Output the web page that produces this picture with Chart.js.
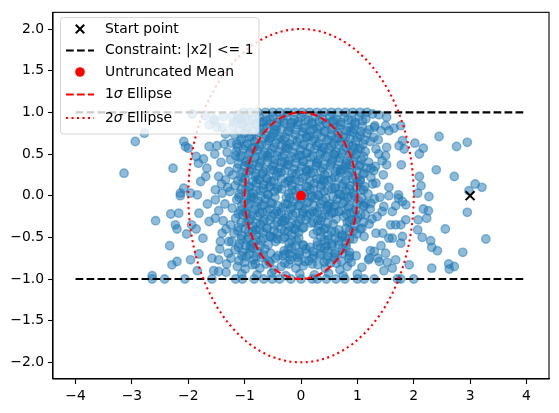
<!DOCTYPE html>
<html>
<head>
<meta charset="utf-8">
<script src="https://cdn.jsdelivr.net/npm/chart.js@4.4.1/dist/chart.umd.min.js"></script>
<style>
  html, body { margin: 0; padding: 0; background: #fff; }
  #wrap { width: 559px; height: 413px; }
</style>
</head>
<body>
<div id="wrap"><canvas id="chart" width="559" height="413"></canvas></div>
<script>
const xTicks = [-4, -3, -2, -1, 0, 1, 2, 3, 4];
const yTicks = [-2, -1.5, -1, -0.5, 0, 0.5, 1, 1.5, 2];
const startPoint = [3, 0];
const untruncatedMean = [0, 0];
const constraintBounds = [1, -1];
const constraintSpan = [-4, 4];
const sigmaRadii = [1, 2];

// samples, split by region
const samplesLeft = [
  [-3.14,0.27],[-2.94,0.65],[-2.78,0.75],[-2.08,0.65],[-2.05,0.59],[-2.0,0.57],[-1.86,0.47],[-1.73,0.44],
  [-1.82,0.39],[-2.27,0.33],[-1.63,0.59],[-1.49,0.6],[-1.53,0.5],[-1.67,0.33],[-1.69,0.23],[-1.78,0.17],
  [-2.08,0.09],[-2.14,0.03],[-1.96,0.03],[-1.46,0.23],[-1.34,0.19],[-1.28,0.29],[-1.31,0.52],[-1.16,0.48],
  [-1.14,0.62],[-1.52,0.07],[-1.4,0.03],[-1.93,0.98],[-1.53,0.9],[-1.63,0.85],[-1.4,0.82],[-1.23,0.94],
  [-1.34,0.74],[-1.55,0.92],[-1.49,0.82],[-1.19,0.88],[-1.07,0.92],[-1.7,0.96],[-1.38,0.95],[-1.12,0.97],
  [-2.58,-0.3],[-2.31,-0.22],[-2.17,-0.21],[-2.14,0.0],[-1.84,0.01],[-2.23,-0.35],[-2.2,-0.4],[-2.33,-0.6],
  [-2.03,-0.46],[-1.94,-0.35],[-1.86,-0.4],[-1.81,-0.21],[-1.74,-0.51],[-1.63,-0.31],[-1.66,-0.1],[-1.81,-0.7],
  [-1.96,-0.77],[-2.2,-0.79],[-2.29,-0.83],[-1.84,-0.9],[-2.64,-0.96],[-1.58,-0.75],[-1.46,-0.77],[-1.55,-0.9],
  [-1.46,-0.91],[-1.33,-0.92],[-1.43,-0.55],[-1.28,-0.55],[-1.4,-0.45],[-1.52,-0.27],[-1.46,-0.18],[-1.52,-0.05],
  [-1.29,-0.69],[-1.35,-0.1],[-1.38,-0.3],[-1.3,0.1],[-1.42,0.4],[-1.33,-0.4],
  [-1.36,0.62],[-1.44,-0.64],[-1.32,-0.82],[-1.41,0.14]
];
const samplesRight = [
  [2.95,-0.2],[2.56,-0.4],[3.28,-0.52],[2.87,-0.68],[2.62,-0.82],[2.63,-0.88],[2.72,-0.85],[2.32,-0.87],
  [2.42,-0.66],[2.32,-0.62],[2.3,-0.54],[2.15,-0.5],[2.07,-0.41],[2.27,-0.01],[2.17,-0.16],[2.26,-0.18],
  [2.23,-0.27],[2.08,-0.29],[2.07,0.03],[1.92,-0.83],[1.47,-0.9],[1.68,-0.77],[1.53,-0.8],[1.5,-0.69],
  [1.36,-0.75],[1.3,-0.67],[1.8,-0.49],[1.77,-0.57],[1.62,-0.51],[1.59,-0.35],[1.68,-0.35],[1.77,-0.35],
  [1.86,-0.29],[1.86,-0.11],[1.8,-0.07],[1.73,-0.03],[1.68,-0.12],[1.47,-0.13],
  [1.31,0.84],[1.42,0.78],[1.5,0.84],[1.65,0.81],[1.77,0.84],[1.56,0.78],[1.37,0.67],[1.29,0.7],
  [2.45,0.71],[2.95,0.64],[2.76,0.59],[2.02,0.63],[2.17,0.57],[2.1,0.5],[1.8,0.66],[1.83,0.56],
  [1.74,0.6],[1.52,0.58],[1.44,0.42],[1.52,0.37],[1.78,0.37],[2.4,0.31],[2.72,0.23],[2.1,0.23],
  [2.13,0.12],[3.09,0.14],[3.21,0.1],[2.98,0.06],[1.56,0.1],[1.33,0.15],[1.73,0.01],[1.27,0.98],
  [1.38,0.5],[1.46,0.25],[1.4,-0.02],[1.35,-0.25],[1.45,-0.45],[1.32,0.35],[1.42,-0.6],
  [1.3,0.82],[1.24,0.33],[1.56,-0.0],[1.24,-0.09],[1.44,-0.19],[1.62,-0.19],[1.33,-0.45],[1.56,-0.51],
  [1.21,-0.75],[1.39,-0.79],[1.62,-0.87],[1.33,0.56],[1.5,0.48],[1.38,0.97],[1.52,0.94]
];
const samplesCore = [
  [-1.12,0.92],[-0.98,0.95],[-0.86,0.91],[-0.74,0.94],[-0.61,0.9],[-0.5,0.95],[-0.37,0.92],[-0.25,0.96],[-0.12,0.91],[0.0,0.94],
  [0.13,0.9],[0.26,0.95],[0.38,0.92],[0.51,0.96],[0.63,0.91],[0.77,0.94],[0.9,0.9],[1.03,0.95],[1.15,0.92],
  [-1.22,0.83],[-1.05,0.86],[-0.93,0.82],[-0.8,0.85],[-0.68,0.81],[-0.56,0.86],[-0.44,0.83],[-0.3,0.87],[-0.19,0.82],[-0.06,0.85],
  [0.07,0.81],[0.19,0.86],[0.33,0.83],[0.45,0.87],[0.57,0.82],[0.7,0.85],[0.84,0.81],[0.96,0.86],[1.09,0.83],[1.21,0.79],
  [-1.18,0.73],[-1.0,0.75],[-0.88,0.71],[-0.75,0.76],[-0.62,0.72],[-0.49,0.75],[-0.36,0.7],[-0.24,0.77],[-0.1,0.73],[0.03,0.76],
  [0.15,0.71],[0.29,0.74],[0.41,0.77],[0.54,0.72],[0.66,0.75],[0.79,0.7],[0.92,0.76],[1.05,0.72],[1.17,0.75],
  [-1.24,0.63],[-1.08,0.66],[-0.95,0.62],[-0.83,0.65],[-0.7,0.61],[-0.57,0.66],[-0.45,0.63],[-0.31,0.67],[-0.2,0.62],[-0.07,0.65],
  [0.06,0.61],[0.2,0.66],[0.32,0.63],[0.46,0.67],[0.58,0.62],[0.71,0.65],[0.85,0.61],[0.97,0.66],[1.1,0.62],[1.23,0.65],
  [-1.15,0.53],[-1.02,0.56],[-0.9,0.52],[-0.77,0.55],[-0.64,0.51],[-0.52,0.56],[-0.39,0.53],[-0.27,0.57],[-0.14,0.52],[-0.01,0.55],
  [0.11,0.51],[0.24,0.56],[0.37,0.53],[0.5,0.57],[0.62,0.52],[0.75,0.55],[0.88,0.51],[1.01,0.56],[1.14,0.53],
  [-1.25,0.43],[-1.09,0.46],[-0.96,0.42],[-0.82,0.45],[-0.71,0.41],[-0.58,0.46],[-0.46,0.43],[-0.33,0.47],[-0.21,0.42],[-0.08,0.45],
  [0.05,0.41],[0.17,0.46],[0.31,0.43],[0.43,0.47],[0.56,0.42],[0.69,0.45],[0.81,0.41],[0.95,0.46],[1.07,0.43],[1.2,0.4],
  [-1.13,0.33],[-1.0,0.36],[-0.87,0.32],[-0.75,0.35],[-0.63,0.31],[-0.5,0.36],[-0.38,0.33],[-0.25,0.37],[-0.12,0.32],[0.01,0.35],
  [0.14,0.31],[0.27,0.36],[0.39,0.33],[0.52,0.37],[0.64,0.32],[0.78,0.35],[0.9,0.31],[1.03,0.36],[1.16,0.33],[1.29,0.3],
  [-1.21,0.25],[-1.06,0.22],[-0.97,0.27],[-0.81,0.23],[-0.69,0.26],[-0.6,0.2],[-0.44,0.24],[-0.35,0.28],[-0.19,0.21],[-0.09,0.26],
  [0.08,0.23],[0.18,0.27],[0.34,0.2],[0.42,0.25],[0.6,0.22],[0.7,0.28],[0.83,0.24],[0.98,0.21],[1.1,0.26],[1.24,0.22],
  [-1.17,0.12],[-1.03,0.16],[-0.91,0.11],[-0.79,0.15],[-0.66,0.13],[-0.53,0.17],[-0.41,0.1],[-0.28,0.15],[-0.16,0.12],[-0.03,0.17],
  [0.12,0.11],[0.23,0.15],[0.36,0.13],[0.49,0.18],[0.61,0.1],[0.74,0.14],[0.87,0.12],[1.0,0.16],[1.13,0.11],[1.27,0.14],
  [-1.26,0.05],[-1.1,0.02],[-0.98,0.07],[-0.85,0.03],[-0.72,0.06],[-0.59,0.01],[-0.47,0.05],[-0.34,0.08],[-0.22,0.02],[-0.1,0.06],
  [0.04,0.03],[0.16,0.07],[0.3,0.01],[0.41,0.05],[0.55,0.08],[0.67,0.02],[0.8,0.06],[0.93,0.03],[1.06,0.07],[1.19,0.02],
  [-1.14,-0.05],[-1.01,-0.08],[-0.89,-0.03],[-0.76,-0.07],[-0.63,-0.04],[-0.51,-0.09],[-0.26,-0.02],[-0.13,-0.07],[0.0,-0.04],
  [0.13,-0.08],[0.25,-0.03],[0.39,-0.06],[0.51,-0.1],[0.64,-0.04],[0.77,-0.07],[0.9,-0.02],[1.02,-0.06],[1.15,-0.09],[1.3,-0.04],
  [-1.22,-0.15],[-1.07,-0.18],[-0.94,-0.13],[-0.82,-0.17],[-0.7,-0.12],[-0.56,-0.16],[-0.43,-0.19],[-0.32,-0.14],[-0.18,-0.17],[-0.05,-0.12],
  [0.07,-0.16],[0.21,-0.19],[0.33,-0.14],[0.46,-0.17],[0.59,-0.13],[0.72,-0.18],[0.84,-0.14],[0.97,-0.17],[1.11,-0.12],[1.23,-0.16],
  [-1.16,-0.27],[-1.03,-0.23],[-0.9,-0.28],[-0.77,-0.24],[-0.65,-0.29],[-0.52,-0.25],[-0.4,-0.22],[-0.27,-0.27],[-0.15,-0.23],[-0.01,-0.28],
  [0.11,-0.24],[0.24,-0.21],[0.37,-0.26],[0.5,-0.23],[0.62,-0.28],[0.76,-0.25],[0.88,-0.21],[1.01,-0.26],[1.14,-0.23],[1.26,-0.28],
  [-1.25,-0.35],[-1.11,-0.38],[-0.97,-0.33],[-0.85,-0.37],[-0.72,-0.34],[-0.6,-0.39],[-0.47,-0.35],[-0.34,-0.32],[-0.2,-0.37],[-0.08,-0.34],
  [0.05,-0.38],[0.18,-0.33],[0.31,-0.36],[0.44,-0.39],[0.57,-0.34],[0.82,-0.32],[0.95,-0.36],[1.08,-0.39],[1.21,-0.34],
  [-1.19,-0.45],[-1.05,-0.48],[-0.93,-0.43],[-0.8,-0.47],[-0.67,-0.44],[-0.55,-0.49],[-0.42,-0.45],[-0.29,-0.42],[-0.17,-0.47],[-0.04,-0.44],
  [0.22,-0.46],[0.35,-0.43],[0.48,-0.48],[0.6,-0.44],[0.73,-0.47],[0.86,-0.42],[0.99,-0.46],[1.12,-0.49],
  [-1.23,-0.55],[-1.09,-0.58],[-0.96,-0.53],[-0.84,-0.57],[-0.71,-0.54],[-0.58,-0.59],[-0.45,-0.55],[-0.33,-0.52],[-0.21,-0.57],[-0.08,-0.54],
  [0.04,-0.6],[0.29,-0.56],[0.42,-0.53],[0.55,-0.58],[0.67,-0.54],[0.8,-0.57],[0.93,-0.52],
  [-1.17,-0.65],[-1.03,-0.68],[-0.9,-0.63],[-0.77,-0.67],[-0.64,-0.64],[-0.3,-0.66],[-0.17,-0.63],[-0.04,-0.68],[0.09,-0.64],
  [0.21,-0.67],[0.35,-0.62],[0.47,-0.66],[0.6,-0.69],[0.73,-0.64],[0.86,-0.68],[1.23,-0.66],
  [-1.24,-0.75],[-1.1,-0.78],[-0.97,-0.73],[-0.84,-0.77],[-0.7,-0.74],[-0.57,-0.79],[-0.45,-0.75],[-0.32,-0.72],[-0.19,-0.77],[-0.06,-0.74],
  [0.07,-0.79],[0.2,-0.75],[0.33,-0.72],[0.46,-0.77],[0.59,-0.74],[0.72,-0.79],[0.85,-0.75],[0.98,-0.72],[1.2,-0.77],
  [-1.13,-0.85],[-0.99,-0.88],[-0.86,-0.83],[-0.73,-0.87],[-0.48,-0.89],[-0.35,-0.85],[-0.22,-0.82],[-0.09,-0.87],[0.04,-0.84],
  [0.3,-0.83],[0.43,-0.87],[0.69,-0.89],[0.82,-0.85],[1.08,-0.86],
  [-1.05,-0.94],[-0.78,-0.95],[-0.52,-0.93],[-0.27,-0.96],[-0.02,-0.94],[0.24,-0.95],[0.49,-0.93],[0.75,-0.96],[1.0,-0.94]
];
const samplesCoreExtra = [
  [-0.71,0.88],[-0.44,0.79],[-0.15,0.88],[0.22,0.8],[0.55,0.89],[0.88,0.78],[-0.83,0.58],[-0.55,0.69],[-0.26,0.6],[0.09,0.7],
  [0.38,0.58],[0.66,0.69],[0.95,0.57],[-0.92,0.38],[-0.6,0.48],[-0.3,0.4],[0.0,0.48],[0.28,0.39],[0.58,0.5],[0.86,0.37],
  [-0.77,0.19],[-0.48,0.3],[-0.2,0.18],[0.1,0.29],[0.4,0.19],[0.7,0.31],[1.05,0.19],[-0.88,-0.01],[-0.57,0.1],[-0.24,-0.1],
  [0.18,0.0],[0.47,-0.12],[0.75,0.0],[-0.96,-0.22],[-0.68,-0.2],[-0.33,-0.3],[0.03,-0.21],[0.3,-0.3],[0.58,-0.2],[0.9,-0.29],
  [-0.8,-0.41],[-0.5,-0.5],[-0.12,-0.4],[0.45,-0.6],[0.78,-0.5],[-0.9,-0.6],[-0.2,-0.7],[0.14,-0.78],[0.52,-0.81],[-0.62,-0.82]
];
// the saturated middle of the cloud, where single marks cannot be told apart
const samplesCoreDense = [
  [-1.04,0.88],[-0.93,0.9],[-0.8,0.87],[-0.67,0.89],[-0.55,0.91],[-0.42,0.88],[-0.31,0.9],[-0.18,0.87],[-0.05,0.89],[0.08,0.91],
  [0.2,0.88],[0.32,0.9],[0.45,0.87],[0.58,0.9],[0.71,0.88],[0.84,0.91],[0.96,0.88],[1.09,0.9],
  [-1.1,0.78],[-0.97,0.8],[-0.85,0.77],[-0.72,0.79],[-0.6,0.81],[-0.47,0.78],[-0.35,0.8],[-0.21,0.77],[-0.09,0.79],[0.04,0.81],
  [0.17,0.78],[0.29,0.8],[0.43,0.77],[0.55,0.79],[0.68,0.81],[0.81,0.78],[0.94,0.8],[1.06,0.77],
  [-1.05,0.68],[-0.92,0.7],[-0.79,0.67],[-0.66,0.69],[-0.53,0.71],[-0.4,0.68],[-0.28,0.7],[-0.15,0.67],[-0.02,0.69],[0.11,0.71],
  [0.24,0.68],[0.36,0.7],[0.49,0.67],[0.62,0.69],[0.75,0.71],[0.87,0.68],[1.0,0.7],[1.13,0.67],
  [-1.12,0.58],[-0.99,0.6],[-0.86,0.57],[-0.74,0.59],[-0.61,0.61],[-0.48,0.58],[-0.35,0.6],[-0.23,0.57],[-0.1,0.59],[0.03,0.61],
  [0.16,0.58],[0.28,0.6],[0.41,0.57],[0.54,0.59],[0.67,0.61],[0.8,0.58],[0.92,0.6],[1.05,0.57],
  [-1.06,0.48],[-0.93,0.5],[-0.8,0.47],[-0.68,0.49],[-0.55,0.51],[-0.42,0.48],[-0.3,0.5],[-0.17,0.47],[-0.04,0.49],[0.09,0.51],
  [0.21,0.48],[0.34,0.5],[0.47,0.47],[0.6,0.49],[0.72,0.51],[0.85,0.48],[0.98,0.5],[1.11,0.47],
  [-1.11,0.38],[-0.98,0.4],[-0.86,0.37],[-0.73,0.39],[-0.6,0.41],[-0.47,0.38],[-0.35,0.4],[-0.22,0.37],[-0.09,0.39],[0.03,0.41],
  [0.16,0.38],[0.29,0.4],[0.42,0.37],[0.54,0.39],[0.67,0.41],[0.8,0.38],[0.93,0.4],[1.05,0.37],
  [-1.05,0.28],[-0.92,0.3],[-0.8,0.27],[-0.67,0.29],[-0.54,0.31],[-0.41,0.28],[-0.29,0.3],[-0.16,0.27],[-0.03,0.29],[0.1,0.31],
  [0.22,0.28],[0.35,0.3],[0.48,0.27],[0.61,0.29],[0.73,0.31],[0.86,0.28],[0.99,0.3],[1.12,0.27],
  [-1.12,0.18],[-0.99,0.2],[-0.86,0.17],[-0.73,0.19],[-0.61,0.21],[-0.48,0.18],[-0.35,0.2],[-0.23,0.17],[-0.1,0.19],[0.03,0.21],
  [0.16,0.18],[0.28,0.2],[0.41,0.17],[0.54,0.19],[0.67,0.21],[0.79,0.18],[0.92,0.2],[1.05,0.17],
  [-1.06,0.08],[-0.93,0.1],[-0.8,0.07],[-0.67,0.09],[-0.55,0.11],[-0.42,0.08],[-0.16,0.07],[-0.04,0.09],[0.09,0.11],[0.22,0.08],
  [0.35,0.1],[0.47,0.07],[0.6,0.09],[0.73,0.11],[0.86,0.08],[0.98,0.1],[1.11,0.07],
  [-1.1,-0.02],[-0.97,0.0],[-0.84,-0.03],[-0.71,-0.01],[-0.58,0.01],[-0.46,-0.02],[-0.2,-0.03],[-0.07,-0.01],[0.06,0.01],[0.19,-0.02],
  [0.32,0.0],[0.44,-0.03],[0.57,-0.01],[0.7,0.01],[0.83,-0.02],[0.95,0.0],[1.08,-0.03],
  [-1.05,-0.12],[-0.92,-0.1],[-0.79,-0.13],[-0.66,-0.11],[-0.54,-0.09],[-0.41,-0.12],[-0.28,-0.1],[-0.16,-0.13],[-0.03,-0.11],[0.1,-0.09],
  [0.23,-0.12],[0.35,-0.1],[0.48,-0.13],[0.61,-0.11],[0.74,-0.09],[0.86,-0.12],[0.99,-0.1],[1.12,-0.13],
  [-1.11,-0.22],[-0.98,-0.2],[-0.86,-0.23],[-0.73,-0.21],[-0.6,-0.19],[-0.47,-0.22],[-0.35,-0.2],[-0.22,-0.23],[-0.09,-0.21],[0.04,-0.19],
  [0.16,-0.22],[0.29,-0.2],[0.42,-0.23],[0.55,-0.21],[0.67,-0.19],[0.8,-0.22],[0.93,-0.2],[1.06,-0.23],
  [-1.06,-0.32],[-0.93,-0.3],[-0.8,-0.33],[-0.67,-0.31],[-0.55,-0.29],[-0.42,-0.32],[-0.29,-0.3],[-0.17,-0.33],[-0.04,-0.31],[0.09,-0.29],
  [0.22,-0.32],[0.35,-0.3],[0.47,-0.33],[0.86,-0.31],[0.98,-0.29],[1.11,-0.32],
  [-1.12,-0.42],[-0.99,-0.4],[-0.86,-0.43],[-0.74,-0.41],[-0.61,-0.39],[-0.48,-0.42],[-0.35,-0.4],[-0.23,-0.43],[-0.1,-0.41],[0.03,-0.39],
  [0.29,-0.42],[0.41,-0.4],[0.54,-0.43],[0.67,-0.41],[0.8,-0.39],[0.93,-0.42],[1.05,-0.4],
  [-1.06,-0.52],[-0.93,-0.5],[-0.8,-0.53],[-0.67,-0.51],[-0.55,-0.49],[-0.42,-0.52],[-0.29,-0.5],[-0.17,-0.53],[-0.04,-0.51],
  [0.35,-0.5],[0.48,-0.53],[0.61,-0.51],[0.73,-0.49],[0.86,-0.52],
  [-1.11,-0.62],[-0.98,-0.6],[-0.86,-0.63],[-0.73,-0.61],[-0.22,-0.63],[-0.09,-0.61],[0.04,-0.59],[0.16,-0.62],[0.29,-0.6],
  [0.42,-0.63],[0.55,-0.61],[0.67,-0.59],[0.8,-0.62],
  [-1.05,-0.72],[-0.92,-0.7],[-0.8,-0.73],[-0.67,-0.71],[-0.54,-0.69],[-0.41,-0.72],[-0.29,-0.7],[-0.16,-0.73],[-0.03,-0.71],[0.1,-0.69],
  [0.23,-0.72],[0.35,-0.7],[0.48,-0.73],[0.61,-0.71],[0.74,-0.69],[0.86,-0.72],
  [-1.0,-0.8],[-0.81,-0.82],[-0.55,-0.8],[-0.29,-0.81],[-0.04,-0.79],[0.2,-0.82],[0.41,-0.8],[0.63,-0.81],[0.89,-0.8]
];
const rimTopX = [-1.02,-0.9,-0.77,-0.63,-0.5,-0.38,-0.24,-0.11,0.02,0.15,0.28,0.41,0.54,0.66,0.79,0.92,1.05,1.17];
const rimBottomX = [-2.64,-2.42,-2.06,-1.58,-1.16,-1.04,-0.83,-0.66,-0.51,-0.38,-0.18,0.0,0.2,0.29,0.45,0.62,0.78,1.0,1.12,1.3,1.71,1.77,2.0];

const FONT = "'DejaVu Sans', sans-serif";
const DASH = [7.7, 3.3];
const DOT = [2.1, 3.4];
const LW = 2.08;
const BLUE_A = 'rgba(31,119,180,0.5)';

const minus = s => String(s).replace('-', '\u2212');

const scatterPts = []
  .concat(samplesLeft, samplesCore, samplesCoreExtra, samplesCoreDense, samplesRight)
  .map(p => ({ x: p[0], y: p[1] }))
  .concat(rimTopX.map(v => ({ x: v, y: constraintBounds[0] })))
  .concat(rimBottomX.map(v => ({ x: v, y: constraintBounds[1] })));

const ellipsePlugin = {
  id: 'ellipses',
  afterDatasetsDraw(chart) {
    const { ctx, chartArea, scales: { x, y } } = chart;
    const cx = x.getPixelForValue(untruncatedMean[0]);
    const cy = y.getPixelForValue(untruncatedMean[1]);
    ctx.save();
    ctx.beginPath();
    ctx.rect(chartArea.left, chartArea.top, chartArea.width, chartArea.height);
    ctx.clip();
    sigmaRadii.forEach((r, i) => {
      const rx = x.getPixelForValue(untruncatedMean[0] + r) - cx;
      const ry = cy - y.getPixelForValue(untruncatedMean[1] + r);
      ctx.beginPath();
      ctx.ellipse(cx, cy, rx, ry, 0, 0, Math.PI * 2);
      ctx.strokeStyle = 'red';
      ctx.lineWidth = LW;
      ctx.lineCap = 'butt';
      ctx.setLineDash(i === 0 ? DASH : DOT);
      ctx.stroke();
    });
    ctx.restore();
  }
};

const framePlugin = {
  id: 'frame',
  afterDraw(chart) {
    const { ctx, chartArea: a } = chart;
    ctx.save();
    ctx.strokeStyle = '#000';
    ctx.lineWidth = 1.1;
    ctx.strokeRect(a.left, a.top, a.right - a.left, a.bottom - a.top);
    ctx.restore();
  }
};

// legend drawn inside the axes, like matplotlib's "best" placement
const legendPlugin = {
  id: 'mplLegend',
  afterDraw(chart) {
    const ctx = chart.ctx;
    ctx.save();
    const bx = 60.5, by = 17.5, bw = 198.5, bh = 116.5, r = 3;
    ctx.beginPath();
    ctx.roundRect(bx, by, bw, bh, r);
    ctx.fillStyle = 'rgba(255,255,255,0.8)';
    ctx.fill();
    ctx.strokeStyle = 'rgba(204,204,204,0.8)';
    ctx.lineWidth = 1;
    ctx.stroke();

    const hx = 80, x0 = 66, x1 = 94, tx = 105;
    const rows = [29, 50.5, 72, 94.5, 118];
    ctx.font = '13.9px ' + FONT;
    ctx.fillStyle = '#000';
    ctx.textBaseline = 'middle';

    // start point
    ctx.strokeStyle = '#000';
    ctx.lineWidth = 2;
    ctx.beginPath();
    ctx.moveTo(hx - 4.2, rows[0] - 4.2); ctx.lineTo(hx + 4.2, rows[0] + 4.2);
    ctx.moveTo(hx - 4.2, rows[0] + 4.2); ctx.lineTo(hx + 4.2, rows[0] - 4.2);
    ctx.stroke();
    ctx.fillText('Start point', tx, rows[0]);

    // constraint
    ctx.lineWidth = LW;
    ctx.setLineDash(DASH);
    ctx.beginPath(); ctx.moveTo(x0, rows[1]); ctx.lineTo(x1, rows[1]); ctx.stroke();
    ctx.setLineDash([]);
    ctx.fillText('Constraint: |x2| <= 1', tx, rows[1]);

    // mean
    ctx.fillStyle = 'red';
    ctx.beginPath(); ctx.arc(hx, rows[2], 4.8, 0, Math.PI * 2); ctx.fill();
    ctx.fillStyle = '#000';
    ctx.fillText('Untruncated Mean', tx, rows[2]);

    // ellipses
    [[DASH, '1', rows[3]], [DOT, '2', rows[4]]].forEach(([dash, n, yy]) => {
      ctx.strokeStyle = 'red';
      ctx.setLineDash(dash);
      ctx.beginPath(); ctx.moveTo(x0, yy); ctx.lineTo(x1, yy); ctx.stroke();
      ctx.setLineDash([]);
      let cx = tx;
      ctx.font = '13.9px ' + FONT;
      ctx.fillText(n, cx, yy);
      cx += ctx.measureText(n).width;
      ctx.font = 'italic 13.9px ' + FONT;
      ctx.fillText('\u03c3', cx, yy);
      cx += ctx.measureText('\u03c3').width;
      ctx.font = '13.9px ' + FONT;
      ctx.fillText(' Ellipse', cx, yy);
    });
    ctx.restore();
  }
};

const axisCommon = {
  type: 'linear',
  grid: { display: true, drawOnChartArea: false, drawTicks: true, tickLength: 5, tickColor: '#000', tickWidth: 1.1 },
  border: { display: true, color: '#000', width: 1.1 },
  ticks: { color: '#000', font: { family: FONT, size: 13.9 }, padding: 4 }
};

new Chart(document.getElementById('chart'), {
  type: 'scatter',
  data: {
    datasets: [
      {
        label: 'samples',
        data: scatterPts,
        backgroundColor: BLUE_A,
        borderColor: BLUE_A,
        borderWidth: 1.4,
        pointRadius: 4.2,
        order: 4
      },
      {
        label: 'Constraint: |x2| <= 1',
        type: 'line',
        data: constraintSpan.map(v => ({ x: v, y: constraintBounds[0] })),
        borderColor: '#000', borderWidth: LW, borderDash: DASH, pointRadius: 0, order: 2
      },
      {
        label: 'constraint lower',
        type: 'line',
        data: constraintSpan.map(v => ({ x: v, y: constraintBounds[1] })),
        borderColor: '#000', borderWidth: LW, borderDash: DASH, pointRadius: 0, order: 2
      },
      {
        label: 'Start point',
        data: [{ x: startPoint[0], y: startPoint[1] }],
        pointStyle: 'crossRot', pointRadius: 6.3, borderColor: '#000', borderWidth: 2, order: 1
      },
      {
        label: 'Untruncated Mean',
        data: [{ x: untruncatedMean[0], y: untruncatedMean[1] }],
        pointRadius: 4.2, backgroundColor: 'red', borderColor: 'red', borderWidth: 1.4, order: 0
      }
    ]
  },
  options: {
    responsive: false,
    animation: false,
    devicePixelRatio: 1,
    layout: { padding: { left: 0, top: 11, right: 10, bottom: 0 } },
    plugins: { legend: { display: false }, tooltip: { enabled: false } },
    scales: {
      x: Object.assign({}, axisCommon, {
        min: -4.4, max: 4.4,
        afterBuildTicks: s => { s.ticks = xTicks.map(v => ({ value: v })); },
        afterFit: s => { s.height = 34; },
        ticks: Object.assign({}, axisCommon.ticks, { callback: v => minus(v) })
      }),
      y: Object.assign({}, axisCommon, {
        min: -2.2, max: 2.2,
        afterBuildTicks: s => { s.ticks = yTicks.map(v => ({ value: v })); },
        afterFit: s => { s.width = 53; },
        ticks: Object.assign({}, axisCommon.ticks, { callback: v => minus(v.toFixed(1)) })
      })
    }
  },
  plugins: [ellipsePlugin, framePlugin, legendPlugin]
});
</script>
</body>
</html>
